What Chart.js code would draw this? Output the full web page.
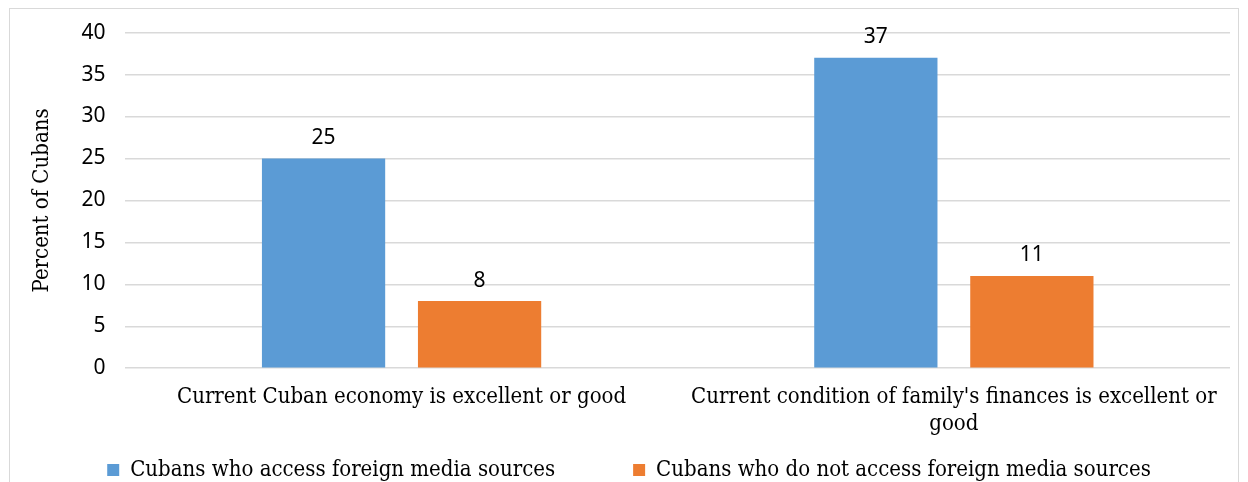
<!DOCTYPE html>
<html>
<head>
<meta charset="utf-8">
<script src="https://cdn.jsdelivr.net/npm/chart.js@4"></script>
<style>
  body { margin: 0; background: #fff; overflow: hidden; }
  #frame { position: absolute; left: 9px; top: 8px; width: 1228px; height: 600px; border: 1px solid #d9d9d9; }
  #chart { position: absolute; left: 0; top: 0; }
</style>
</head>
<body>
<div id="frame"></div>
<canvas id="chart" width="1248" height="491"></canvas>
<script>
var categories = [
  "Current Cuban economy is excellent or good",
  ["Current condition of family's finances is excellent or", "good"]
];
var seriesNames = ["Cubans who access foreign media sources", "Cubans who do not access foreign media sources"];
var accessForeign = [25, 37];
var noAccessForeign = [8, 11];
var yTicks = [0, 5, 10, 15, 20, 25, 30, 35, 40];

var serif = "'DejaVu Serif Condensed', 'DejaVu Serif', serif";
var sans = "'Noto Sans', 'Open Sans', sans-serif";
var legendPull = 64;

var valueLabels = {
  id: "valueLabels",
  afterLayout: function(chart) {
    // give the x labels their full box back so they are not clipped
    var x = chart.scales.x;
    x.bottom += legendPull;
    x.height += legendPull;
  },
  afterDatasetsDraw: function(chart) {
    var ctx = chart.ctx;
    ctx.save();
    ctx.font = "21px " + sans;
    ctx.fillStyle = "#000";
    ctx.textAlign = "center";
    ctx.textBaseline = "bottom";
    chart.data.datasets.forEach(function(ds, i) {
      chart.getDatasetMeta(i).data.forEach(function(bar, j) {
        ctx.fillText(ds.data[j], bar.x, bar.y - 10);
      });
    });
    ctx.restore();
  }
};

new Chart(document.getElementById("chart"), {
  type: "bar",
  data: {
    labels: categories,
    datasets: [
      { label: seriesNames[0], data: accessForeign, backgroundColor: "#5b9bd5" },
      { label: seriesNames[1], data: noAccessForeign, backgroundColor: "#ed7d31" }
    ]
  },
  options: {
    responsive: false,
    animation: false,
    devicePixelRatio: 1,
    categoryPercentage: 0.565,
    barPercentage: 0.79,
    layout: { padding: { left: 28, right: 18, top: 29, bottom: 0 } },
    plugins: {
      tooltip: { enabled: false },
      legend: {
        position: "bottom",
        labels: {
          boxWidth: 12, boxHeight: 12, padding: 78,
          color: "#000",
          font: { family: serif, size: 22 }
        }
      }
    },
    scales: {
      x: {
        grid: { display: false },
        border: { display: false },
        ticks: { color: "#000", font: { family: serif, size: 22 }, maxRotation: 0, padding: 8 },
        afterFit: function(axis) { axis.height -= legendPull; }
      },
      y: {
        min: 0, max: 40,
        afterBuildTicks: function(axis) { axis.ticks = yTicks.map(function(v) { return { value: v }; }); },
        grid: { color: "#d9d9d9", lineWidth: 1.5, drawTicks: false },
        border: { display: false },
        ticks: { color: "#000", font: { family: sans, size: 21 }, padding: 20 },
        title: { display: true, text: "Percent of Cubans", color: "#000", font: { family: serif, size: 22 }, padding: { top: 1, bottom: 6 } }
      }
    }
  },
  plugins: [valueLabels]
});
</script>
</body>
</html>
